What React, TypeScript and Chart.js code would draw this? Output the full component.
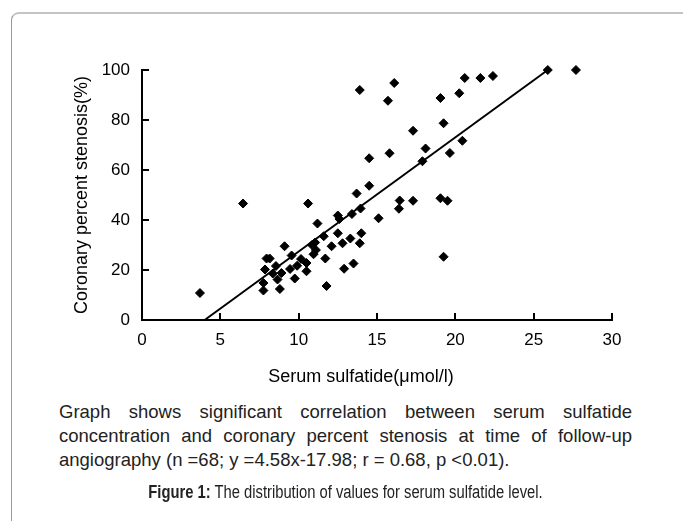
import React, { useEffect, useRef } from "react";
import { Chart, registerables } from "chart.js";

Chart.register(...registerables);

// Serum sulfatide (µmol/l) and coronary percent stenosis (%) for each patient
const sulfatide = [
  3.7, 6.45, 7.75, 7.75, 7.85, 7.95, 8.15, 8.55, 8.8, 8.65,
  8.9, 8.35, 9.1, 9.55, 9.45, 9.75, 9.9, 10.15, 10.5, 10.5,
  10.85, 11.05, 10.95, 11.1, 10.6, 11.2, 11.6, 11.7, 11.78, 12.1,
  12.5, 12.8, 12.9, 12.5, 12.6, 13.3, 13.4, 13.5, 13.9, 14.0,
  13.95, 13.7, 14.5, 13.9, 14.5, 15.1, 15.7, 15.8, 16.1, 16.45,
  16.4, 17.3, 17.3, 17.9, 18.1, 19.05, 19.05, 19.5, 19.25, 19.25,
  19.65, 20.25, 20.45, 20.6, 21.6, 22.4, 25.9, 27.7,
];
const stenosis = [
  10.8, 46.6, 11.8, 14.8, 20.2, 24.6, 24.6, 21.6, 12.4, 16.2,
  18.8, 18.6, 29.5, 25.8, 20.4, 16.6, 21.7, 24.4, 22.8, 19.5,
  30, 31, 26.3, 28, 46.6, 38.6, 33.5, 24.6, 13.6, 29.5,
  34.7, 30.7, 20.5, 41.8, 40.4, 32.6, 42.4, 22.6, 30.7, 34.7,
  44.6, 50.6, 53.7, 92, 64.7, 40.7, 87.7, 66.7, 94.8, 47.8,
  44.5, 47.7, 75.7, 63.5, 68.6, 88.8, 48.7, 47.7, 78.7, 25.3,
  66.8, 90.7, 71.7, 96.8, 96.8, 97.6, 100, 100,
];
// Regression line end points (y = 4.58x - 17.98)
const fitX = [4.0, 25.9];
const fitY = [0, 100];

const xTitle = "Serum sulfatide(\u03bcmol/l)";
const yTitle = "Coronary percent stenosis(%)";
const captionLines = [
  "Graph shows significant correlation between serum sulfatide",
  "concentration and coronary percent stenosis at time of follow-up",
  "angiography (n =68; y =4.58x-17.98; r = 0.68, p <0.01).",
];
const figureLabel = "Figure 1:";
const figureText = " The distribution of values for serum sulfatide level.";
const fontFamily = "'Liberation Sans', Arial, sans-serif";

const axisExtras = {
  id: "axisExtras",
  afterDraw(chart: any) {
    const { ctx, chartArea } = chart;
    const x = chart.scales.x;
    const y = chart.scales.y;
    ctx.save();
    ctx.strokeStyle = "#000";
    ctx.lineWidth = 2;
    ctx.beginPath();
    for (const t of x.ticks) {
      const px = Math.round(x.getPixelForValue(t.value));
      ctx.moveTo(px, chartArea.bottom);
      ctx.lineTo(px, chartArea.bottom - 7);
    }
    for (const t of y.ticks) {
      const py = Math.round(y.getPixelForValue(t.value));
      ctx.moveTo(chartArea.left, py);
      ctx.lineTo(chartArea.left + 7, py);
    }
    ctx.stroke();
    // x axis title, slightly left of the axis centre as in the original figure
    ctx.fillStyle = "#000";
    ctx.font = "18px " + fontFamily;
    ctx.textAlign = "center";
    ctx.textBaseline = "middle";
    ctx.fillText(xTitle, (chartArea.left + chartArea.right) / 2 - 16, chartArea.bottom + 57);
    ctx.restore();
  },
};

export default function App() {
  const ref = useRef<HTMLCanvasElement | null>(null);

  useEffect(() => {
    if (!ref.current) return;
    const tickFont = { family: fontFamily, size: 17 };
    const titleFont = { family: fontFamily, size: 18 };
    const chart = new Chart(ref.current, {
      type: "scatter",
      data: {
        datasets: [
          {
            label: "Patients",
            data: sulfatide.map((v, i) => ({ x: v, y: stenosis[i] })),
            pointStyle: "rectRot",
            pointRadius: 4.5,
            pointBackgroundColor: "#000",
            pointBorderColor: "#000",
            pointBorderWidth: 1,
            showLine: false,
            clip: false,
          },
          {
            label: "Regression",
            data: fitX.map((v, i) => ({ x: v, y: fitY[i] })),
            showLine: true,
            borderColor: "#000",
            borderWidth: 2,
            pointRadius: 0,
            fill: false,
            clip: false,
          },
        ],
      },
      options: {
        animation: false,
        responsive: false,
        layout: { padding: { left: 0, top: 62, right: 63, bottom: 0 } },
        plugins: {
          legend: { display: false },
          tooltip: { enabled: false },
        },
        scales: {
          x: {
            type: "linear",
            min: 0,
            max: 30,
            ticks: { stepSize: 5, color: "#000", font: tickFont, padding: 10 },
            grid: { display: false, drawTicks: false },
            border: { display: true, color: "#000", width: 2 },
            title: { display: false },
            afterFit: (s: any) => {
              s.height = 80;
            },
          },
          y: {
            type: "linear",
            min: 0,
            max: 100,
            ticks: { stepSize: 20, color: "#000", font: tickFont, padding: 12 },
            grid: { display: false, drawTicks: false },
            border: { display: true, color: "#000", width: 2 },
            title: {
              display: true,
              text: yTitle,
              color: "#000",
              font: titleFont,
              padding: { top: 63, bottom: 0 },
            },
            afterFit: (s: any) => {
              s.width = 134;
            },
          },
        },
      },
      plugins: [axisExtras],
    });
    return () => chart.destroy();
  }, []);

  const squeeze = 0.82;

  return (
    <div style={{ position: "relative", width: 667, height: 500 }}>
      <div
        style={{
          position: "fixed",
          left: 11,
          top: 12,
          width: 900,
          height: 900,
          borderLeft: "1px solid #999",
          borderTop: "2px solid #c4c4c4",
          borderTopLeftRadius: 8,
          pointerEvents: "none",
        }}
      />
      <canvas
        ref={ref}
        width={667}
        height={392}
        style={{ display: "block", width: 667, height: 392 }}
      />
      <div
        style={{
          marginLeft: 51,
          width: 573,
          fontFamily,
          fontSize: 18.5,
          lineHeight: "24px",
          color: "#222",
        }}
      >
        {captionLines.map((line, i) => (
          <div
            key={i}
            style={{
              textAlign: i < captionLines.length - 1 ? "justify" : "left",
              textAlignLast: i < captionLines.length - 1 ? "justify" : "left",
              whiteSpace: "nowrap",
            }}
          >
            {line}
          </div>
        ))}
      </div>
      <div
        style={{
          marginLeft: 51,
          marginTop: 8,
          width: 573 / squeeze,
          transform: `scaleX(${squeeze})`,
          transformOrigin: "0 0",
          fontFamily,
          fontSize: 18,
          lineHeight: "24px",
          color: "#222",
          textAlign: "center",
        }}
      >
        <b>{figureLabel}</b>
        {figureText}
      </div>
    </div>
  );
}
